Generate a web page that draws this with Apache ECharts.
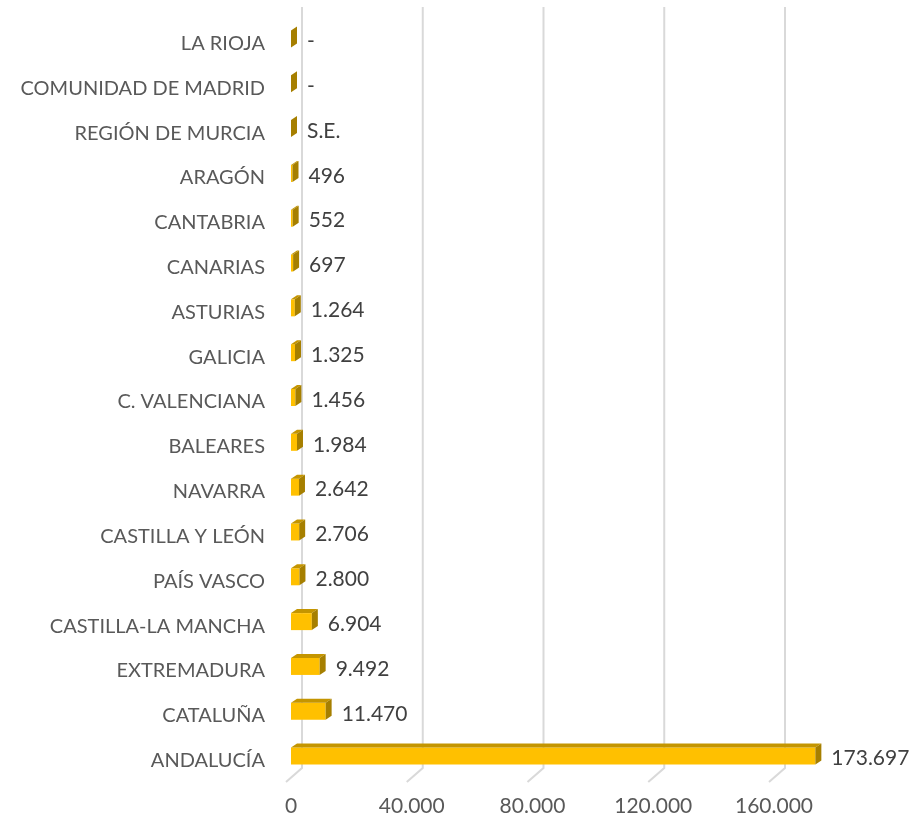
<!DOCTYPE html>
<html>
<head>
<meta charset="utf-8">
<script src="https://cdn.jsdelivr.net/npm/echarts@6/dist/echarts.min.js"></script>
<style>
  html, body { margin: 0; padding: 0; background: #fff; }
  #chart { width: 912px; height: 824px; }
</style>
</head>
<body>
<div id="chart"></div>
<script>
var regions = ['LA RIOJA', 'COMUNIDAD DE MADRID', 'REGIÓN DE MURCIA', 'ARAGÓN', 'CANTABRIA', 'CANARIAS',
    'ASTURIAS', 'GALICIA', 'C. VALENCIANA', 'BALEARES', 'NAVARRA', 'CASTILLA Y LEÓN', 'PAÍS VASCO',
    'CASTILLA-LA MANCHA', 'EXTREMADURA', 'CATALUÑA', 'ANDALUCÍA'];
var values = [0, 0, 0, 496, 552, 697, 1264, 1325, 1456, 1984, 2642, 2706, 2800, 6904, 9492, 11470, 173697];
// texto que sustituye al número cuando no hay dato
var valueText = ['-', '-', 'S.E.'];
var xTicks = [0, 40000, 80000, 120000, 160000];

function fmt(n) {
    return String(n).replace(/\B(?=(\d{3})+(?!\d))/g, '.');
}

var FONT = 'Lato';
var DX = 6, DY = -4, BAR_H = 17;

function renderGrid(params, api) {
    var cs = params.coordSys;
    var p = api.coord([api.value(0), 0]);
    var xb = p[0] + 11;
    var bottom = cs.y + cs.height;
    return {
        type: 'polyline',
        shape: { points: [[xb, cs.y - 14], [xb, bottom - 15], [p[0] - 5, bottom - 1]] },
        style: { stroke: '#D9D9D9', lineWidth: 2, fill: null }
    };
}

function renderBar(params, api) {
    var v = api.value(0), i = api.value(1);
    var p0 = api.coord([0, i]);
    var p1 = api.coord([v, i]);
    var x0 = p0[0], x1 = p1[0];
    var yc = p0[1] - 4.5;
    var yt = yc - BAR_H / 2, yb = yc + BAR_H / 2;
    var txt = valueText[i] != null ? valueText[i] : fmt(v);
    return {
        type: 'group',
        children: [
            {
                type: 'rect',
                shape: { x: x0, y: yt, width: x1 - x0, height: BAR_H },
                style: { fill: '#FFC000' }
            },
            {
                type: 'polygon',
                shape: { points: [[x0, yt], [x1, yt], [x1 + DX, yt + DY], [x0 + DX, yt + DY]] },
                style: { fill: '#C49500' }
            },
            {
                type: 'polygon',
                shape: { points: [[x1, yt], [x1 + DX, yt + DY], [x1 + DX, yb + DY], [x1, yb]] },
                style: { fill: '#A67F00' }
            },
            {
                type: 'text',
                style: {
                    x: x1 + DX + 10, y: p0[1] - 2, text: txt,
                    fill: '#404040', font: '21px ' + FONT,
                    textAlign: 'left', textVerticalAlign: 'middle'
                }
            }
        ]
    };
}

var chart = echarts.init(document.getElementById('chart'));
chart.setOption({
    backgroundColor: '#fff',
    animation: false,
    grid: { left: 291, top: 21, width: 483, height: 762 },
    xAxis: {
        type: 'value',
        min: 0, max: 160000, interval: 40000,
        axisLine: { show: false },
        axisTick: { show: false },
        splitLine: { show: false },
        axisLabel: {
            margin: 13, color: '#595959', fontSize: 21, fontFamily: FONT,
            formatter: function (v) { return fmt(v); }
        }
    },
    yAxis: {
        type: 'category',
        data: regions,
        inverse: true,
        axisLine: { show: false },
        axisTick: { show: false },
        axisLabel: { margin: 26, color: '#595959', fontSize: 20, fontFamily: FONT }
    },
    series: [
        {
            type: 'custom',
            z: 1,
            renderItem: renderGrid,
            encode: { x: 0, y: 1 },
            data: xTicks.map(function (t) { return [t, 0]; })
        },
        {
            type: 'custom',
            z: 2,
            clip: false,
            renderItem: renderBar,
            encode: { x: 0, y: 1 },
            data: values.map(function (v, i) { return [v, i]; })
        }
    ]
});
</script>
</body>
</html>
